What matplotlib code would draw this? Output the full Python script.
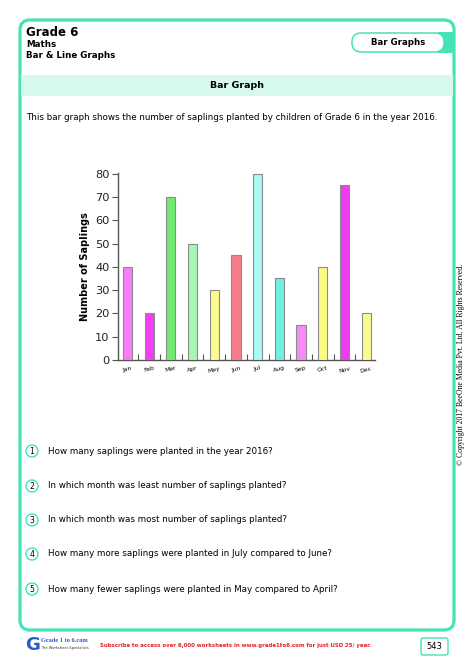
import matplotlib
matplotlib.use('Agg')
import matplotlib.pyplot as plt
from matplotlib.patches import FancyBboxPatch, Rectangle, Circle

# data
months = ['Jan', 'Feb', 'Mar', 'Apr', 'May', 'Jun', 'Jul', 'Aug', 'Sep', 'Oct', 'Nov', 'Dec']
saplings = [40, 20, 70, 50, 30, 45, 80, 35, 15, 40, 75, 20]
bar_colors = ['#f77cf7', '#f23ff2', '#72ea72', '#a8f5b4', '#fbfb8e', '#f67e8c',
              '#a9fbf1', '#70f0e2', '#f78af7', '#fbfb84', '#ee3cee', '#fbfb92']
y_ticks = [0, 10, 20, 30, 40, 50, 60, 70, 80]

questions = [
    "How many saplings were planted in the year 2016?",
    "In which month was least number of saplings planted?",
    "In which month was most number of saplings planted?",
    "How many more saplings were planted in July compared to June?",
    "How many fewer saplings were planted in May compared to April?",
]
question_y = [451, 486, 520, 554, 589]

green = '#45e3b5'
W, H = 474, 669

fig = plt.figure(figsize=(W / 100, H / 100), dpi=100)
fig.patch.set_facecolor('white')

# page layer, in pixel coordinates
page = fig.add_axes([0, 0, 1, 1])
page.set_xlim(0, W)
page.set_ylim(H, 0)
page.axis('off')

# outer frame
page.add_patch(FancyBboxPatch((20, 20), 434, 610, boxstyle="round,pad=0,rounding_size=10",
                              fc='none', ec=green, lw=2.3))
# tab on the right
page.add_patch(Rectangle((438, 32), 15, 21, fc=green, ec='none'))
page.add_patch(FancyBboxPatch((352, 33), 92, 19, boxstyle="round,pad=0,rounding_size=9",
                              fc='white', ec=green, lw=1.1))
page.text(398, 42.5, "Bar Graphs", ha='center', va='center', fontsize=6.2, fontweight='bold')

# header
page.text(26, 33, "Grade 6", ha='left', va='center', fontsize=8.5, fontweight='bold')
page.text(26, 44.5, "Maths", ha='left', va='center', fontsize=6.3, fontweight='bold')
page.text(26, 56, "Bar & Line Graphs", ha='left', va='center', fontsize=6.3, fontweight='bold')

# title band
page.add_patch(Rectangle((21, 75), 432, 21, fc='#d6f8ed', ec='none'))
page.text(237, 85.5, "Bar Graph", ha='center', va='center', fontsize=6.8, fontweight='bold')

page.text(26, 117, "This bar graph shows the number of saplings planted by children of Grade 6 in the year 2016.",
          ha='left', va='center', fontsize=6.3)

# questions
for i, q in enumerate(questions):
    page.add_patch(Circle((32, question_y[i]), 6, fc='white', ec=green, lw=1))
    page.text(32, question_y[i] + 0.3, str(i + 1), ha='center', va='center', fontsize=5.6)
    page.text(48, question_y[i], q, ha='left', va='center', fontsize=6.3)

# copyright on the side
page.text(461, 364, "© Copyright 2017 BeeOne Media Pvt. Ltd. All Rights Reserved.",
          rotation=90, ha='center', va='center', fontsize=5.6, family='Liberation Serif')

# footer
page.text(25, 645, "G", ha='left', va='center', fontsize=13, fontweight='bold', color='#2a5cc8')
page.text(41, 641, "Grade 1 to 6.com", ha='left', va='center', fontsize=4.6, fontweight='bold',
          color='#2a5cc8', family='Liberation Serif')
page.text(41, 648.5, "The Worksheet Specialists", ha='left', va='center', fontsize=2.6, color='#333333')
page.text(100, 645, "Subscribe to access over 6,000 worksheets in www.grade1to6.com for just USD 25/ year.",
          ha='left', va='center', fontsize=3.9, fontweight='bold', color='#e8202a')
page.add_patch(FancyBboxPatch((421, 638), 27, 17, boxstyle="round,pad=0,rounding_size=2",
                              fc='white', ec=green, lw=1))
page.text(434.5, 646.5, "543", ha='center', va='center', fontsize=6)

# the bar chart
ax = fig.add_axes([118 / W, (H - 360) / H, (375 - 118) / W, (360 - 173) / H])
x = list(range(len(months)))
ax.bar(x, saplings, width=0.42, color=bar_colors, edgecolor='#8a8a8a', linewidth=0.8, zorder=3)
ax.set_xlim(-0.44, 11.41)
ax.set_ylim(0, 80.3)
ax.set_yticks(y_ticks)
ax.set_yticklabels([str(v) for v in y_ticks], fontsize=8.2, color='#222222')
ax.set_xticks(x)
ax.set_xticklabels(months, fontsize=4.4, rotation=15)
ax.set_xticks([i + 0.5 for i in range(11)], minor=True)
ax.tick_params(axis='x', which='major', length=0, pad=4)
ax.tick_params(axis='x', which='minor', direction='in', length=4, width=0.8, color='#555555')
ax.tick_params(axis='y', length=4, width=0.8, color='#555555', pad=2)
for s in ['top', 'right']:
    ax.spines[s].set_visible(False)
for s in ['left', 'bottom']:
    ax.spines[s].set_color('#555555')
    ax.spines[s].set_linewidth(1)
ax.set_ylabel("Number of Saplings", fontsize=7, fontweight='semibold', labelpad=4)
ax.set_facecolor('none')

fig.savefig('out.png', dpi=100)
